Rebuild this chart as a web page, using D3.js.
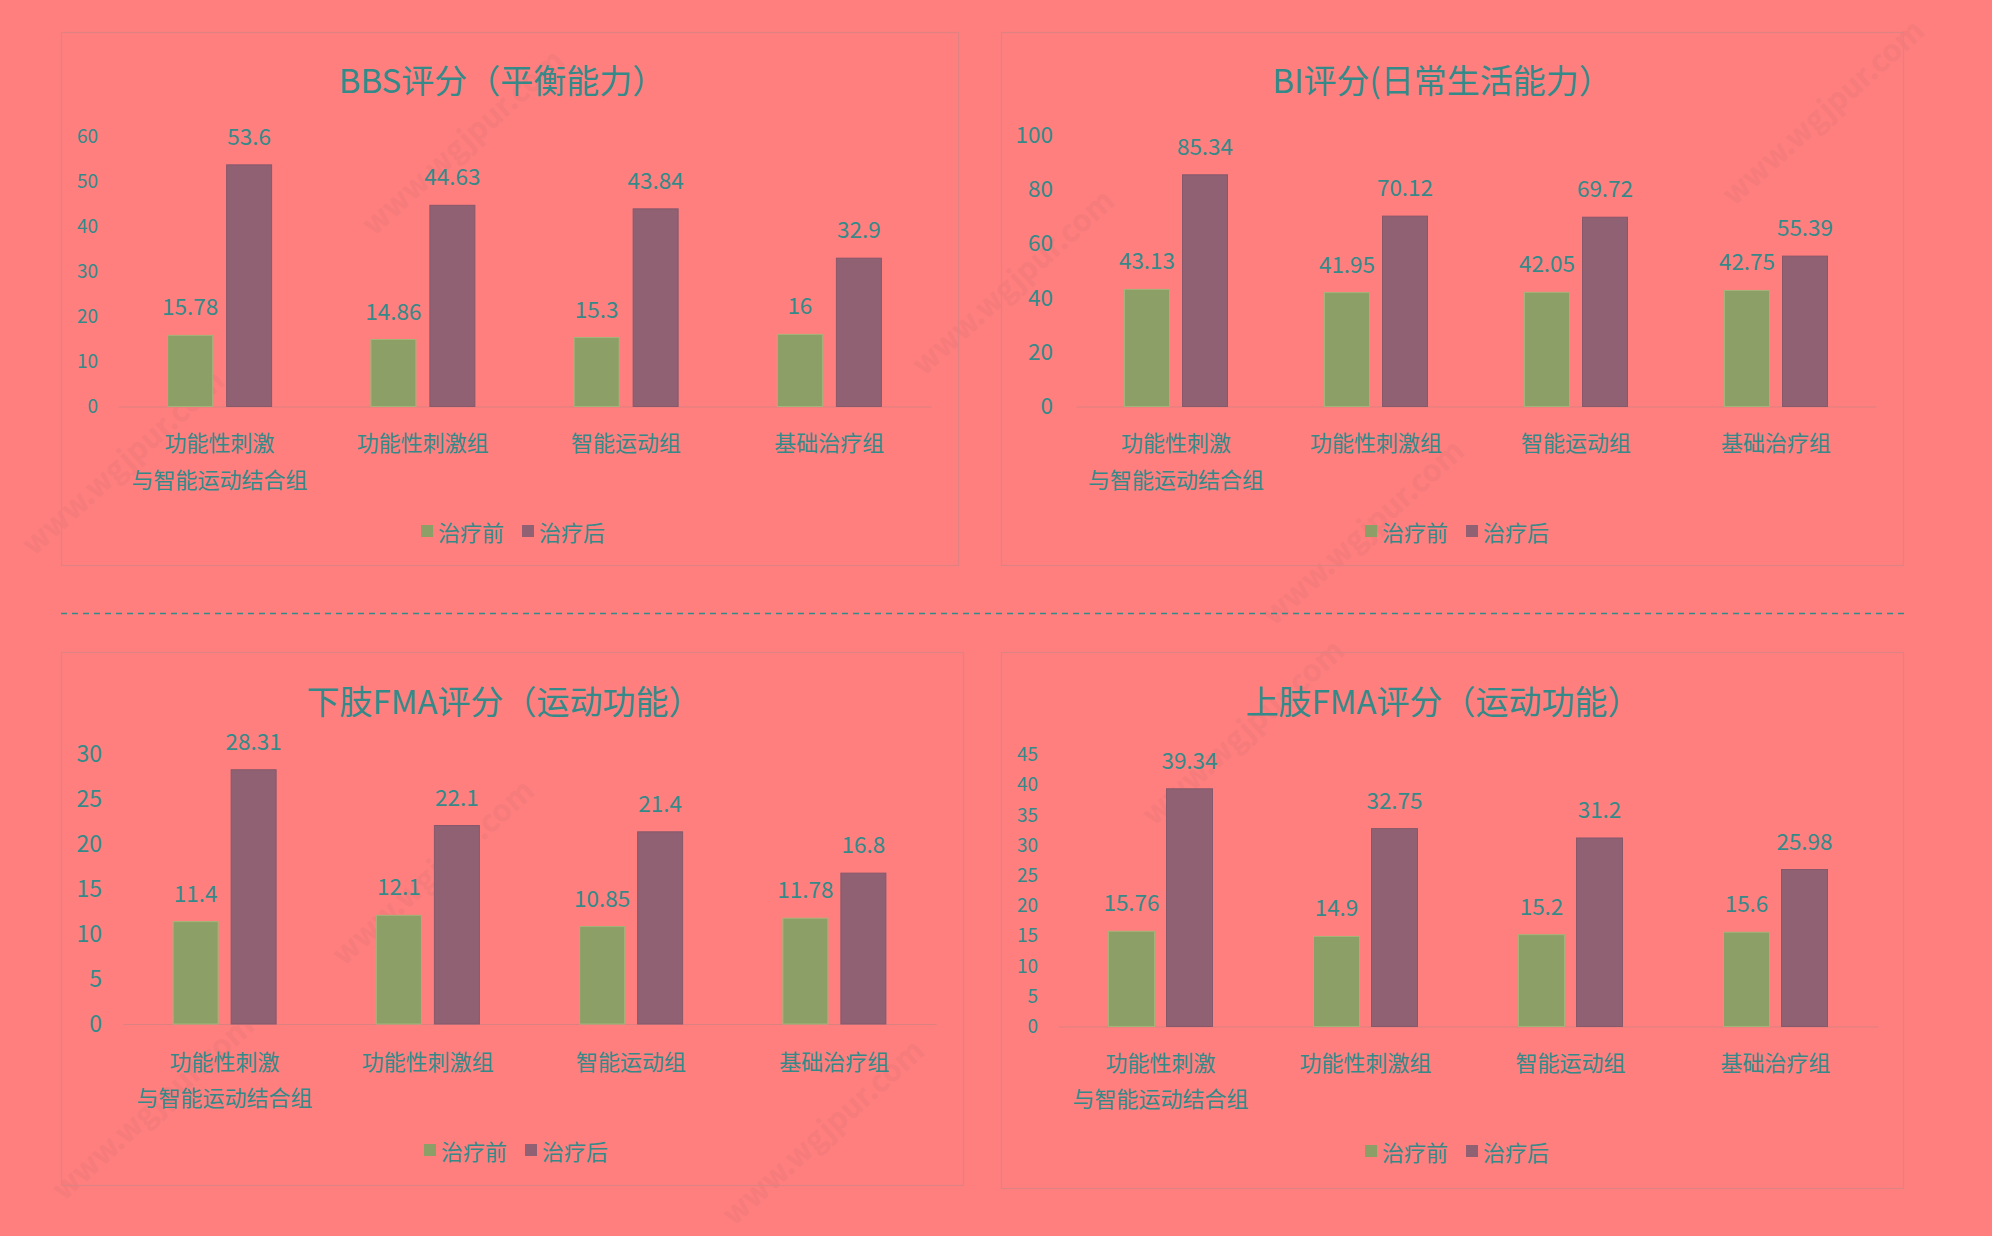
<!DOCTYPE html>
<html>
<head>
<meta charset="utf-8">
<script src="https://cdn.jsdelivr.net/npm/d3@7/dist/d3.min.js"></script>
<style>
  html, body { margin: 0; padding: 0; background: #FF7F7F; }
  svg { display: block; }
  text { font-family: "Noto Sans CJK SC", "Noto Sans", sans-serif; }
</style>
</head>
<body>
<svg id="chart" width="1992" height="1236"></svg>
<script>
// ---------------- DATA ----------------
const categories = [
  ["功能性刺激", "与智能运动结合组"],
  ["功能性刺激组"],
  ["智能运动组"],
  ["基础治疗组"]
];
const seriesNames = ["治疗前", "治疗后"];

const bbsTitle = "BBS评分（平衡能力）";
const bbsBefore = [15.78, 14.86, 15.3, 16];
const bbsAfter  = [53.6, 44.63, 43.84, 32.9];
const bbsTicks  = [0, 10, 20, 30, 40, 50, 60];

const biTitle = "BI评分(日常生活能力）";
const biBefore = [43.13, 41.95, 42.05, 42.75];
const biAfter  = [85.34, 70.12, 69.72, 55.39];
const biTicks  = [0, 20, 40, 60, 80, 100];

const lowerTitle = "下肢FMA评分（运动功能）";
const lowerBefore = [11.4, 12.1, 10.85, 11.78];
const lowerAfter  = [28.31, 22.1, 21.4, 16.8];
const lowerTicks  = [0, 5, 10, 15, 20, 25, 30];

const upperTitle = "上肢FMA评分（运动功能）";
const upperBefore = [15.76, 14.9, 15.2, 15.6];
const upperAfter  = [39.34, 32.75, 31.2, 25.98];
const upperTicks  = [0, 5, 10, 15, 20, 25, 30, 35, 40, 45];

const watermarkText = "www.wgjpur.com";

// ---------------- STYLE / LAYOUT ----------------
const TEXT = "#338a89";
const GREEN = "#8c9f66";
const PURPLE = "#8f6173";
const AXIS = "#dd8080";
const BORDER = "#e08282";

const panels = [
  { title: bbsTitle, before: bbsBefore, after: bbsAfter, ticks: bbsTicks,
    box: [61, 32, 897, 533], plot: [118, 931], y0: 406.5, yTop: 136,
    titleX: 502, titleY: 79, tickX: 98, tickSize: 19,
    catY: 441, catDy: 37, legendX: 513, legendY: 531, bw: 45, gap: 14 },
  { title: biTitle, before: biBefore, after: biAfter, ticks: biTicks,
    box: [1001, 32, 902, 533], plot: [1076, 1876], y0: 406.5, yTop: 135,
    titleX: 1442, titleY: 79, tickX: 1053, tickSize: 22.5,
    catY: 441, catDy: 37, legendX: 1457, legendY: 531, bw: 45, gap: 13 },
  { title: lowerTitle, before: lowerBefore, after: lowerAfter, ticks: lowerTicks,
    box: [61, 652, 902, 533], plot: [123, 936], y0: 1024, yTop: 754.6,
    titleX: 504, titleY: 700, tickX: 102, tickSize: 23,
    catY: 1059.5, catDy: 36, legendX: 516, legendY: 1150, bw: 45, gap: 13 },
  { title: upperTitle, before: upperBefore, after: upperAfter, ticks: upperTicks,
    box: [1001, 652, 902, 536], plot: [1058, 1878], y0: 1026.5, yTop: 754.6,
    titleX: 1443, titleY: 700, tickX: 1038, tickSize: 19,
    catY: 1061, catDy: 36, legendX: 1457, legendY: 1151, bw: 46, gap: 12 }
];

const svg = d3.select("#chart");
svg.append("rect").attr("width", 1992).attr("height", 1236).attr("fill", "#FF7F7F");

// watermarks (faint, rotated)
const wmPos = [[470, 150], [1020, 290], [130, 470], [1830, 120], [1370, 540], [440, 880], [1250, 740], [830, 1140], [160, 1115]];
svg.append("g").selectAll("text").data(wmPos).join("text")
  .attr("transform", d => `translate(${d[0]},${d[1]}) rotate(-42)`)
  .attr("text-anchor", "middle")
  .attr("font-size", 30)
  .attr("font-weight", "bold")
  .attr("fill", "#f07878")
  .attr("opacity", 0.55)
  .text(watermarkText);

// dashed separator
svg.append("line")
  .attr("x1", 61).attr("x2", 1906).attr("y1", 613.5).attr("y2", 613.5)
  .attr("stroke", TEXT).attr("stroke-width", 1.5).attr("stroke-dasharray", "6,5");

panels.forEach(p => {
  const g = svg.append("g");
  const [bx, by, bw, bh] = p.box;
  g.append("rect").attr("x", bx + 0.5).attr("y", by + 0.5).attr("width", bw).attr("height", bh)
    .attr("fill", "none").attr("stroke", BORDER).attr("stroke-width", 1.2);

  g.append("text").attr("x", p.titleX).attr("y", p.titleY)
    .attr("text-anchor", "middle").attr("dominant-baseline", "central")
    .attr("font-size", 33).attr("fill", TEXT).text(p.title);

  const yMax = p.ticks[p.ticks.length - 1];
  const y = d3.scaleLinear().domain([0, yMax]).range([p.y0, p.yTop]);
  const x0 = d3.scaleBand().domain(d3.range(categories.length)).range(p.plot).padding(0);
  const B = x0.bandwidth();
  const pairW = 2 * p.bw + p.gap;
  const x1 = d3.scaleBand().domain(seriesNames)
    .range([(B - pairW) / 2, (B + pairW) / 2])
    .paddingInner(p.gap / (p.bw + p.gap)).paddingOuter(0);
  const color = d3.scaleOrdinal().domain(seriesNames).range([GREEN, PURPLE]);

  // y axis labels
  const yAxis = d3.axisLeft(y).tickValues(p.ticks).tickSize(0).tickPadding(0);
  const ya = g.append("g").attr("transform", `translate(${p.tickX},0)`).call(yAxis);
  ya.select(".domain").remove();
  ya.selectAll("text").attr("font-size", p.tickSize).attr("fill", TEXT)
    .attr("font-family", '"Noto Sans CJK SC", "Noto Sans", sans-serif');

  // baseline
  const xAxis = d3.axisBottom(x0).tickSize(0).tickFormat("");
  const xa = g.append("g").attr("transform", `translate(0,${p.y0})`).call(xAxis);
  xa.select(".domain").attr("stroke", AXIS).attr("stroke-width", 1.2);

  // bars
  const rows = categories.map((c, i) => ({ i, vals: [
    { s: seriesNames[0], v: p.before[i] }, { s: seriesNames[1], v: p.after[i] }] }));
  const grp = g.selectAll(".grp").data(rows).join("g")
    .attr("transform", d => `translate(${x0(d.i)},0)`);
  grp.selectAll("rect").data(d => d.vals).join("rect")
    .attr("x", d => x1(d.s)).attr("width", x1.bandwidth())
    .attr("y", d => y(d.v)).attr("height", d => y(0) - y(d.v))
    .attr("fill", d => color(d.s))
    .attr("stroke", d => d.s === seriesNames[0] ? "#a4b478" : "#86586a")
    .attr("stroke-width", 1);
  grp.selectAll("text.val").data(d => d.vals).join("text").attr("class", "val")
    .attr("x", d => x1(d.s) + x1.bandwidth() / 2)
    .attr("y", d => y(d.v) - 20)
    .attr("text-anchor", "middle").attr("font-size", 22.5).attr("fill", TEXT)
    .text(d => d.v);

  // category labels
  categories.forEach((lines, i) => {
    lines.forEach((ln, k) => {
      g.append("text").attr("x", x0(i) + B / 2).attr("y", p.catY + k * p.catDy)
        .attr("text-anchor", "middle").attr("dominant-baseline", "central")
        .attr("font-size", 22).attr("fill", TEXT).text(ln);
    });
  });

  // legend
  const sq = 12, tGap = 5, itemGap = 18, txtW = 66;
  const itemW = sq + tGap + txtW;
  const totalW = itemW * 2 + itemGap;
  const lx = p.legendX - totalW / 2;
  seriesNames.forEach((s, k) => {
    const ix = lx + k * (itemW + itemGap);
    g.append("rect").attr("x", ix).attr("y", p.legendY - sq / 2).attr("width", sq).attr("height", sq)
      .attr("fill", color(s));
    g.append("text").attr("x", ix + sq + tGap).attr("y", p.legendY)
      .attr("dominant-baseline", "central").attr("font-size", 22).attr("fill", TEXT).text(s);
  });
});
</script>
</body>
</html>
